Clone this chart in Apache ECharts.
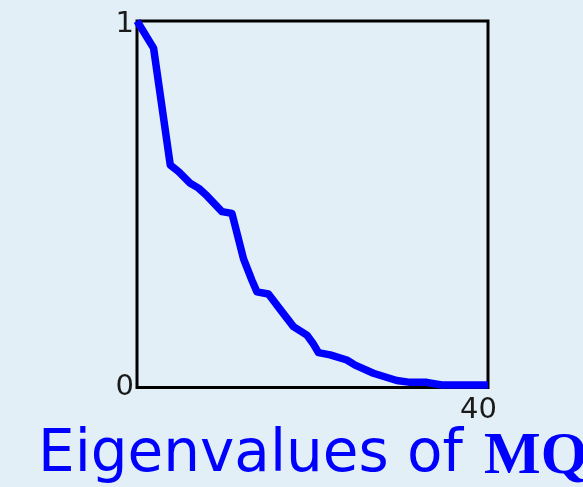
<!DOCTYPE html>
<html>
<head>
<meta charset="utf-8">
<script src="https://cdn.jsdelivr.net/npm/echarts@6/dist/echarts.min.js"></script>
<style>
html,body{margin:0;padding:0;background:#e2eff7;}
#chart{width:583px;height:487px;}
</style>
</head>
<body>
<div id="chart"></div>
<script>
// Data
var xValues = [0, 1.89, 3.79, 4.74, 6.07, 7.01, 7.97, 9.68, 10.82, 12.14, 13.09, 13.66, 14.98, 16.51, 17.83, 19.36, 20.04, 20.68, 22.01, 23.91, 24.86, 26.94, 29.6, 31.12, 33.02, 34.73, 40];
var eigenValues = [1.0, 0.926, 0.607, 0.589, 0.557, 0.544, 0.523, 0.480, 0.475, 0.351, 0.293, 0.261, 0.255, 0.207, 0.166, 0.143, 0.121, 0.095, 0.089, 0.075, 0.061, 0.039, 0.019, 0.014, 0.014, 0.007, 0.007];
var xTickLabels = ['40'];
var yTickLabels = ['0', '1'];
var titleMain = 'Eigenvalues of';
var titleBold = 'MQ';

var seriesData = xValues.map(function (x, i) { return [x, eigenValues[i]]; });

var chart = echarts.init(document.getElementById('chart'));
chart.setOption({
  backgroundColor: '#e2eff7',
  animation: false,
  grid: {
    left: 137, top: 21, width: 351, height: 366.5,
    show: true, borderColor: '#000', borderWidth: 3, backgroundColor: 'transparent'
  },
  xAxis: {
    type: 'value', min: 0, max: 40, interval: 40,
    axisLine: { show: false }, axisTick: { show: false }, splitLine: { show: false },
    axisLabel: {
      margin: 8, fontSize: 29, color: '#1a1a1a', fontFamily: 'DejaVu Sans',
      padding: [0, 19, 0, 0],
      formatter: function (v) { return v === 40 ? xTickLabels[0] : ''; }
    }
  },
  yAxis: {
    type: 'value', min: 0, max: 1, interval: 1,
    axisLine: { show: false }, axisTick: { show: false }, splitLine: { show: false },
    axisLabel: {
      margin: 3, fontSize: 29, color: '#1a1a1a', fontFamily: 'DejaVu Sans',
      verticalAlign: 'middle',
      formatter: function (v) { return v === 1 ? '{top|' + yTickLabels[1] + '}' : yTickLabels[0]; },
      rich: {
        top: { fontSize: 29, color: '#1a1a1a', fontFamily: 'DejaVu Sans', padding: [7, 0, 0, 0] }
      }
    }
  },
  series: [{
    type: 'line',
    data: seriesData,
    showSymbol: false,
    lineStyle: { color: '#0000ff', width: 7.5, join: 'round' },
    clip: false
  }],
  graphic: [
    {
      type: 'text', left: 38, top: 427,
      style: { text: titleMain, fill: '#0000ff', font: '58px "DejaVu Sans"' }
    },
    {
      type: 'text', left: 484, top: 427,
      style: { text: titleBold, fill: '#0000ff', font: 'bold 60px "Liberation Serif"' }
    }
  ]
});
</script>
</body>
</html>
